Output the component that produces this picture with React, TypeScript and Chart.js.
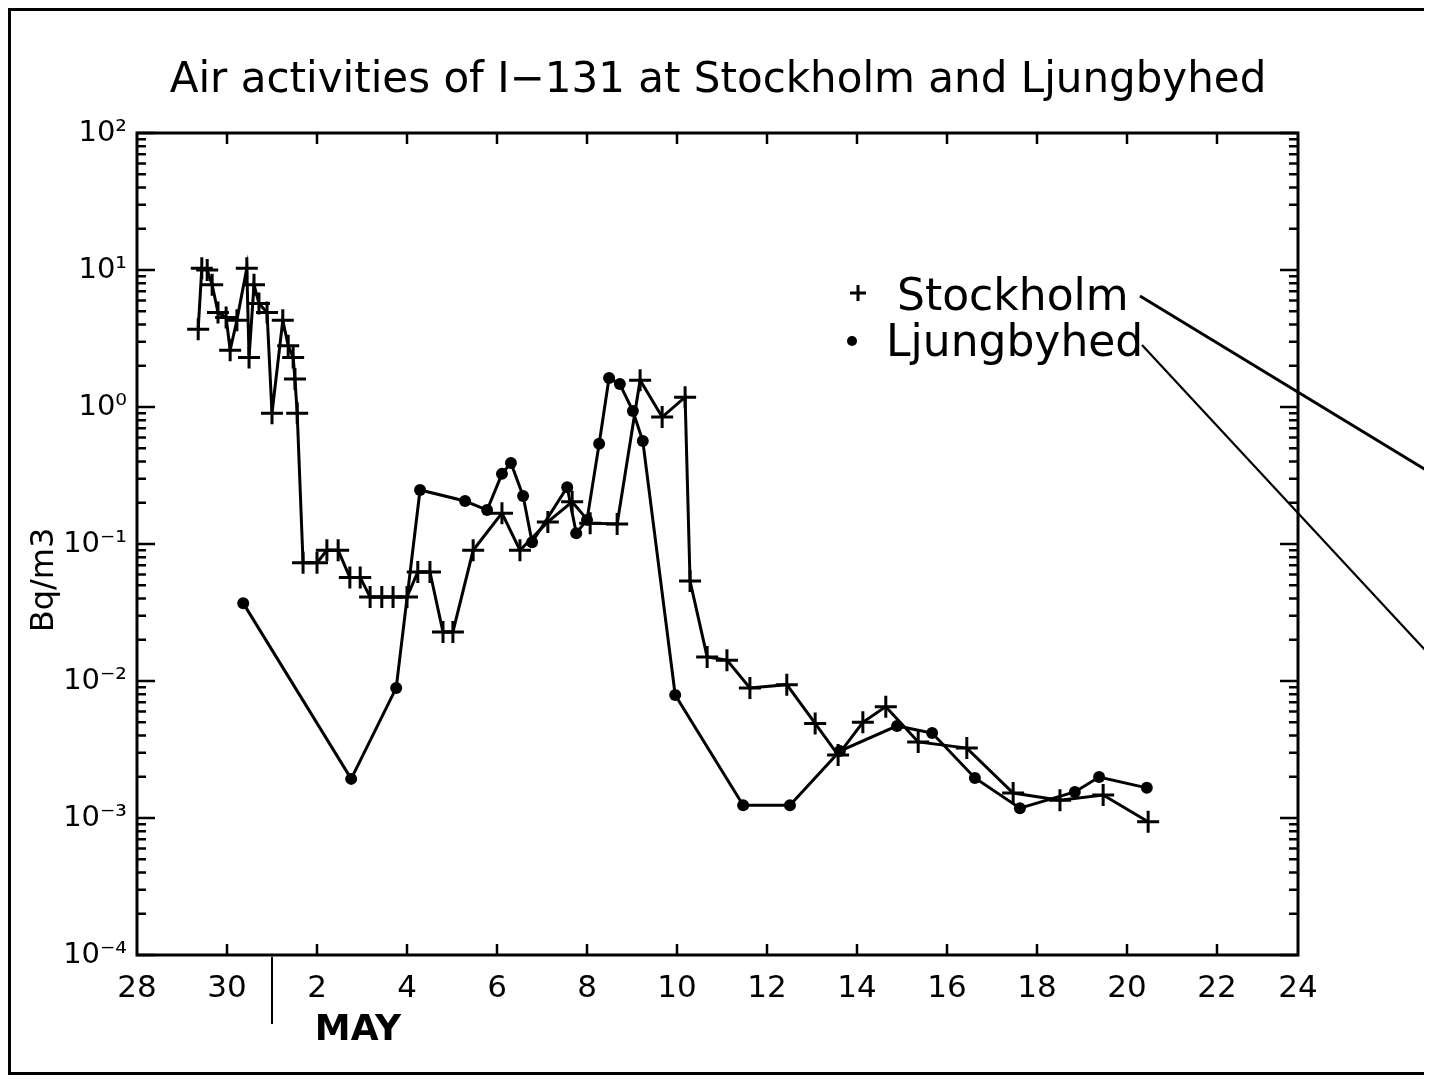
import React, { useEffect, useRef } from "react";
import { Chart, registerables } from "chart.js";

Chart.register(...registerables);

// ---- data (x = days since 28 April) ----
const stockholmDays = [1.36, 1.44, 1.56, 1.67, 1.8, 1.98, 2.07, 2.22, 2.44, 2.49, 2.6, 2.71, 2.89, 3.0, 3.24, 3.36, 3.47, 3.51, 3.56, 3.69, 4.0, 4.22, 4.47, 4.73, 4.96, 5.18, 5.44, 5.69, 6.0, 6.24, 6.51, 6.8, 7.02, 7.47, 8.11, 8.51, 9.13, 9.67, 10.07, 10.67, 11.18, 11.67, 12.18, 12.29, 12.67, 13.11, 13.62, 14.44, 15.07, 15.58, 16.13, 16.64, 17.36, 18.44, 19.47, 20.51, 21.47, 22.47];
const stockholmValues = [3.7, 10.3, 10.0, 7.8, 4.9, 4.5, 2.6, 4.3, 10.3, 2.3, 7.8, 5.7, 4.9, 0.9, 4.3, 2.8, 2.3, 1.6, 0.9, 0.073, 0.073, 0.09, 0.09, 0.057, 0.057, 0.041, 0.041, 0.041, 0.041, 0.0625, 0.0625, 0.0228, 0.0228, 0.09, 0.168, 0.09, 0.145, 0.203, 0.142, 0.14, 1.57, 0.845, 1.18, 0.0537, 0.015, 0.0142, 0.0089, 0.0094, 0.0049, 0.00288, 0.005, 0.0065, 0.00359, 0.00324, 0.00152, 0.00135, 0.00147, 0.00094];

const ljungbyhedDays = [2.36, 4.76, 5.76, 6.29, 7.29, 7.78, 8.11, 8.31, 8.58, 8.78, 9.56, 9.76, 10.0, 10.27, 10.49, 10.73, 11.02, 11.24, 11.96, 13.47, 14.51, 15.62, 16.89, 17.67, 18.62, 19.62, 20.84, 21.38, 22.44];
const ljungbyhedValues = [0.037, 0.00193, 0.0089, 0.248, 0.206, 0.177, 0.325, 0.39, 0.224, 0.103, 0.26, 0.12, 0.15, 0.54, 1.63, 1.47, 0.935, 0.565, 0.0079, 0.00124, 0.00124, 0.00308, 0.0047, 0.00417, 0.00196, 0.00118, 0.00155, 0.00199, 0.00166];

const xTickDays = [0, 2, 4, 6, 8, 10, 12, 14, 16, 18, 20, 22, 24];
const xTickLabels = ["28", "30", "2", "4", "6", "8", "10", "12", "14", "16", "18", "20", "22"];
const xAxisEndDay = 25.8;
const xAxisEndLabel = "24";
const monthStartDay = 3;
const monthLabel = "MAY";

const yMin = 1e-4;
const yMax = 1e2;
const yDecadeExponents = [-4, -3, -2, -1, 0, 1, 2];
const yDecadeLabels = ["10⁻⁴", "10⁻³", "10⁻²", "10⁻¹", "10⁰", "10¹", "10²"];
const yAxisTitle = "Bq/m3";

const titleText = "Air activities of I−131 at Stockholm and Ljungbyhed";
const seriesNames = ["Stockholm", "Ljungbyhed"];

const FONT = '"DejaVu Sans", sans-serif';

function buildYTicks() {
  const out: { value: number }[] = [];
  for (const e of yDecadeExponents) {
    const base = Math.pow(10, e);
    if (e === yDecadeExponents[yDecadeExponents.length - 1]) {
      out.push({ value: base });
      continue;
    }
    for (let m = 1; m <= 9; m++) out.push({ value: m * base });
  }
  return out;
}

const decorPlugin = {
  id: "decor",
  afterDraw(chart: any) {
    const ctx = chart.ctx as CanvasRenderingContext2D;
    const ca = chart.chartArea;
    const xs = chart.scales.x;
    const ys = chart.scales.y;
    ctx.save();
    ctx.strokeStyle = "#000";
    ctx.fillStyle = "#000";
    ctx.lineCap = "butt";

    // chart area box
    ctx.lineWidth = 3;
    ctx.strokeRect(ca.left, ca.top, ca.right - ca.left, ca.bottom - ca.top);

    // y inward ticks (both sides)
    ctx.lineWidth = 2.5;
    for (const t of ys.ticks) {
      const p = ys.getPixelForValue(t.value);
      const lg = Math.log10(t.value);
      const major = Math.abs(lg - Math.round(lg)) < 1e-9;
      const len = major ? 18 : 9;
      ctx.beginPath();
      ctx.moveTo(ca.left, p);
      ctx.lineTo(ca.left + len, p);
      ctx.moveTo(ca.right, p);
      ctx.lineTo(ca.right - len, p);
      ctx.stroke();
    }
    // x inward ticks (bottom and top)
    for (const v of xTickDays) {
      if (v === 0) continue;
      const p = xs.getPixelForValue(v);
      ctx.beginPath();
      ctx.moveTo(p, ca.bottom);
      ctx.lineTo(p, ca.bottom - 11);
      ctx.moveTo(p, ca.top);
      ctx.lineTo(p, ca.top + 11);
      ctx.stroke();
    }

    // month separator and label
    const mx = xs.getPixelForValue(monthStartDay);
    ctx.lineWidth = 2;
    ctx.beginPath();
    ctx.moveTo(mx, ca.bottom + 2);
    ctx.lineTo(mx, ca.bottom + 69);
    ctx.stroke();
    ctx.font = `bold 36px ${FONT}`;
    ctx.textAlign = "center";
    ctx.textBaseline = "alphabetic";
    ctx.fillText(monthLabel, 350, 1032);

    // title
    ctx.font = `42px ${FONT}`;
    ctx.textAlign = "center";
    ctx.textBaseline = "middle";
    ctx.fillText(titleText, 710, 73);

    // y axis title
    ctx.save();
    ctx.translate(37, 572);
    ctx.rotate(-Math.PI / 2);
    ctx.font = `32px ${FONT}`;
    ctx.textAlign = "center";
    ctx.textBaseline = "middle";
    ctx.fillText(yAxisTitle, 0, 0);
    ctx.restore();

    // legend
    ctx.lineWidth = 3;
    ctx.beginPath();
    ctx.moveTo(842, 285);
    ctx.lineTo(858, 285);
    ctx.moveTo(850, 277);
    ctx.lineTo(850, 293);
    ctx.stroke();
    ctx.beginPath();
    ctx.arc(844, 333, 5, 0, Math.PI * 2);
    ctx.fill();
    ctx.font = `44px ${FONT}`;
    ctx.textAlign = "left";
    ctx.textBaseline = "alphabetic";
    ctx.fillText(seriesNames[0], 889, 302);
    ctx.fillText(seriesNames[1], 878, 348);

    // leader lines
    ctx.lineWidth = 3;
    ctx.beginPath();
    ctx.moveTo(1132, 288);
    ctx.lineTo(1418, 462);
    ctx.stroke();
    ctx.lineWidth = 2.2;
    ctx.beginPath();
    ctx.moveTo(1134, 337);
    ctx.lineTo(1418, 643);
    ctx.stroke();

    // outer frame
    ctx.lineWidth = 3;
    ctx.strokeRect(1.5, 1.5, 1416, 1064);
    ctx.restore();
  },
};

export default function App() {
  const ref = useRef<HTMLCanvasElement>(null);
  useEffect(() => {
    if (!ref.current) return;
    const chart = new Chart(ref.current, {
      type: "line",
      data: {
        datasets: [
          {
            label: seriesNames[1],
            data: ljungbyhedDays.map((d, i) => ({ x: d, y: ljungbyhedValues[i] })),
            borderColor: "#000",
            backgroundColor: "#000",
            borderWidth: 3,
            pointStyle: "circle",
            pointRadius: 6,
            pointBorderWidth: 0,
            tension: 0,
          },
          {
            label: seriesNames[0],
            data: stockholmDays.map((d, i) => ({ x: d, y: stockholmValues[i] })),
            borderColor: "#000",
            backgroundColor: "#000",
            borderWidth: 3,
            pointStyle: "cross",
            pointRadius: 11,
            pointBorderWidth: 3,
            tension: 0,
          },
        ],
      },
      options: {
        responsive: false,
        animation: false,
        events: [],
        layout: { padding: { left: 0, top: 125, right: 130, bottom: 0 } },
        plugins: {
          legend: { display: false },
          title: { display: false },
          tooltip: { enabled: false },
        },
        scales: {
          x: {
            type: "linear",
            min: 0,
            max: xAxisEndDay,
            grid: { display: false, drawTicks: false },
            border: { display: false },
            afterBuildTicks: (scale: any) => {
              scale.ticks = [...xTickDays.map((v) => ({ value: v })), { value: xAxisEndDay }];
            },
            afterFit: (scale: any) => {
              scale.height = 121;
            },
            ticks: {
              autoSkip: false,
              maxRotation: 0,
              padding: 15,
              color: "#000",
              font: { family: FONT, size: 31 },
              callback: (_v: any, i: number) => (i < xTickLabels.length ? xTickLabels[i] : xAxisEndLabel),
            },
          },
          y: {
            type: "logarithmic",
            min: yMin,
            max: yMax,
            grid: { display: false, drawTicks: false },
            border: { display: false },
            afterBuildTicks: (scale: any) => {
              scale.ticks = buildYTicks();
            },
            afterFit: (scale: any) => {
              scale.width = 129;
            },
            ticks: {
              autoSkip: false,
              padding: 10,
              color: "#000",
              font: { family: FONT, size: 29 },
              callback: (v: any) => {
                const lg = Math.log10(Number(v));
                const r = Math.round(lg);
                if (Math.abs(lg - r) > 1e-9) return "";
                const idx = yDecadeExponents.indexOf(r);
                return idx >= 0 ? yDecadeLabels[idx] : "";
              },
            },
          },
        },
      },
      plugins: [decorPlugin],
    } as any);
    return () => chart.destroy();
  }, []);
  return (
    <canvas
      ref={ref}
      width={1420}
      height={1068}
      style={{ display: "block", width: "1420px", height: "1068px" }}
    />
  );
}
